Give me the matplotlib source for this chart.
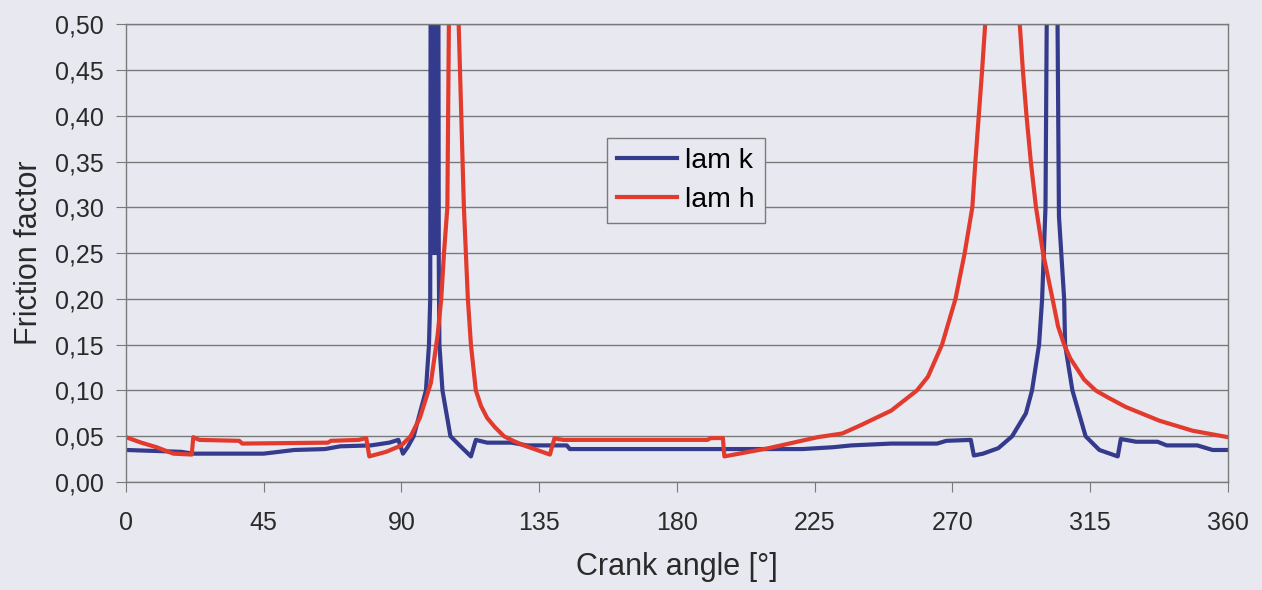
import numpy as np
import matplotlib
matplotlib.use("Agg")
import matplotlib.pyplot as plt
from matplotlib.ticker import FuncFormatter, MultipleLocator

plt.rcParams['font.family'] = ['Liberation Sans', 'DejaVu Sans']

# lam k (blue); values > 0.5 run off the top
k_angle = [0, 18, 22, 45, 50, 55, 65, 70, 80, 86, 89, 90.5, 92, 94, 96, 98, 99, 99.4,
           99.6, 100.0, 100.4, 100.8, 101.2, 101.6, 102.0, 102.2, 102.4, 103.4, 106, 109,
           112.7, 114.3, 118, 126, 131, 144, 145, 221, 231, 237, 250, 265, 268, 276,
           277, 280, 285, 289.5, 294, 296, 298.3, 299.3, 300.4, 301.2, 303.9, 304.8,
           306.5, 306.8, 309.2, 313.5, 318, 324, 325, 330, 337, 340, 350, 355, 360]
k_value = [0.035, 0.033, 0.031, 0.031, 0.033, 0.035, 0.036, 0.039, 0.040, 0.043, 0.046,
           0.031, 0.038, 0.050, 0.075, 0.100, 0.150, 0.200,
           0.700, 0.250, 0.700, 0.250, 0.700, 0.250, 0.700, 0.240, 0.150, 0.100, 0.050,
           0.040, 0.028, 0.046, 0.043, 0.043, 0.040, 0.040, 0.036, 0.036, 0.038, 0.040,
           0.042, 0.042, 0.045, 0.046, 0.029, 0.031, 0.037, 0.050, 0.075, 0.100, 0.150,
           0.200, 0.300, 0.700, 0.700, 0.290, 0.200, 0.150, 0.100, 0.050, 0.035, 0.028,
           0.047, 0.044, 0.044, 0.040, 0.040, 0.035, 0.035]

# lam h (red)
h_angle = [0, 5, 10, 15.5, 21.5, 22, 24, 37, 38, 66, 67, 76, 78.5, 79.5, 85, 90, 93, 96,
           99.6, 101.8, 103, 103.9, 105, 105.5, 106, 108.3, 108.7, 110.4, 111.7, 112.7,
           114.3, 116, 118, 120.5, 123.5, 126.5, 130, 138.5, 140, 141, 143, 190, 191, 195,
           195.5, 210, 226, 234, 240, 250, 258.4, 262, 266.6, 271, 274, 276.5, 277.5,
           278.6, 279.7, 280.7, 281.5, 291.5, 292, 293, 294.2, 295.6, 297.3, 299.6,
           302.7, 304.5, 306.5, 308.5, 313, 316.8, 321, 326.6, 337.6, 348.5, 360]
h_value = [0.049, 0.043, 0.038, 0.031, 0.030, 0.049, 0.046, 0.045, 0.042, 0.043, 0.045,
           0.046, 0.048, 0.028, 0.033, 0.040, 0.050, 0.070, 0.108, 0.160, 0.200, 0.250,
           0.300, 0.500, 0.700, 0.700, 0.500, 0.300, 0.200, 0.150, 0.100, 0.083, 0.070,
           0.060, 0.050, 0.045, 0.040, 0.030, 0.048, 0.047, 0.046, 0.046, 0.048, 0.048,
           0.028, 0.037, 0.049, 0.053, 0.062, 0.078, 0.100, 0.115, 0.150, 0.200, 0.250,
           0.300, 0.350, 0.400, 0.450, 0.500, 0.700, 0.700, 0.500, 0.450, 0.400, 0.350,
           0.300, 0.250, 0.200, 0.170, 0.150, 0.135, 0.112, 0.100, 0.092, 0.082, 0.067,
           0.056, 0.049]

bg = '#e8e8f0'
fig = plt.figure(figsize=(12.62, 5.90), dpi=100, facecolor=bg)
ax = fig.add_axes([0.0998, 0.183, 0.8732, 0.776], facecolor=bg)

ax.plot(k_angle, k_value, color='#353b8c', lw=3, label='lam k')
ax.plot(h_angle, h_value, color='#e23b2e', lw=3, label='lam h')

ax.set_xlim(0, 360)
ax.set_ylim(0, 0.5)
ax.xaxis.set_major_locator(MultipleLocator(45))
ax.yaxis.set_major_locator(MultipleLocator(0.05))
ax.yaxis.set_major_formatter(FuncFormatter(lambda v, p: f'{v:.2f}'.replace('.', ',')))
ax.grid(True, axis='y', color='#7a7a7a', lw=1)
ax.set_axisbelow(True)
for s in ax.spines.values():
    s.set_color('#7a7a7a')
    s.set_linewidth(1)
ax.tick_params(axis='both', colors='#7a7a7a', labelcolor='#2a2a2a', labelsize=18,
               direction='out', length=7)
ax.tick_params(axis='x', pad=14)
ax.tick_params(axis='y', pad=9)

ax.set_xlabel('Crank angle [°]', fontsize=22, color='#2a2a2a', labelpad=12)
ax.set_ylabel('Friction factor', fontsize=22, color='#2a2a2a', labelpad=8)

leg = ax.legend(loc='upper left', bbox_to_anchor=(0.4235, 0.782), fontsize=20.5,
                frameon=True, fancybox=False, framealpha=1, facecolor=bg,
                edgecolor='#7a7a7a', handlelength=2.1, handletextpad=0.3,
                borderpad=0.35, labelspacing=0.45)
leg.get_frame().set_linewidth(1)

fig.savefig('out.png', dpi=100, facecolor=bg)
